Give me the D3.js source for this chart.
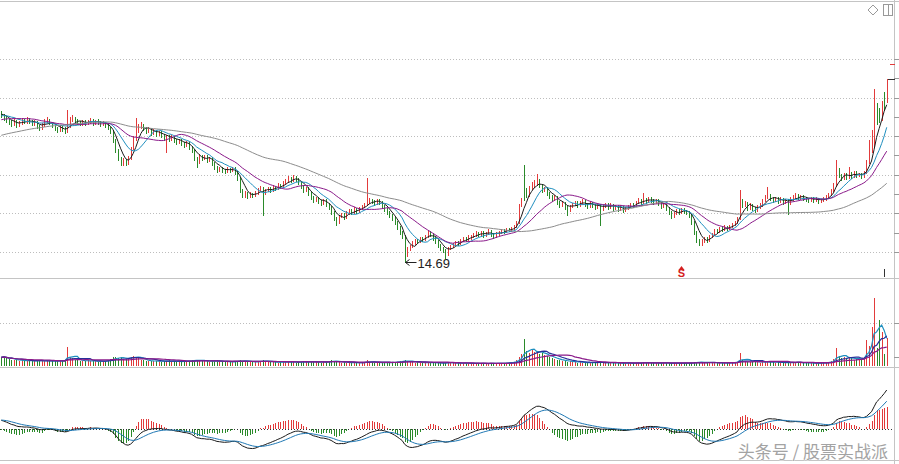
<!DOCTYPE html>
<html><head><meta charset="utf-8">
<script src="https://cdn.jsdelivr.net/npm/d3@7"></script>
<style>html,body{margin:0;padding:0;background:#fff;}svg{display:block;}</style>
</head><body>
<svg id="c" width="899" height="464"></svg>
<script>
// hidden history used only to warm up the averages / MACD
const preClose = [19.80,19.92,19.85,20.01,19.96,20.10,20.05,20.18,20.12,20.25,
20.20,20.33,20.28,20.40,20.36,20.48,20.44,20.55,20.52,20.60,
20.66,20.61,20.72,20.68,20.80,20.76,20.88,20.84,20.95,20.91,
21.02,20.98,21.10,21.06,21.18,21.14,21.25,21.21,21.33,21.30,
21.42,21.38,21.50,21.47,21.58,21.55,21.66,21.62,21.75,21.72,
21.84,21.80,21.92,21.88,22.00,21.96,22.08,22.04,22.15,22.12];

const close = [22.04,21.89,21.79,21.69,21.59,21.74,21.54,21.64,21.79,21.69,
21.84,21.74,21.59,21.69,21.49,21.39,21.54,21.74,21.79,21.64,
21.54,21.39,21.29,21.44,21.34,21.24,21.49,21.79,21.89,21.74,
21.69,21.59,21.74,21.64,21.69,21.79,21.64,21.74,21.69,21.59,
21.64,21.54,21.39,21.24,20.79,20.29,19.89,19.69,19.79,19.64,
19.89,20.39,20.89,21.29,21.44,21.54,21.39,21.24,21.34,21.14,
21.24,21.09,21.19,21.04,20.89,20.99,20.84,20.94,20.79,20.69,
20.79,20.64,20.54,20.64,20.44,20.29,19.89,19.69,19.99,19.89,
19.99,19.79,19.89,19.64,19.44,19.29,19.39,19.29,19.24,19.34,
19.29,19.39,19.19,18.89,18.29,18.04,18.14,17.99,18.09,18.04,
18.14,18.29,18.39,18.19,18.29,18.39,18.29,18.44,18.39,18.54,
18.49,18.64,18.74,18.89,18.79,18.94,18.84,18.69,18.49,18.29,
18.39,18.14,17.94,17.79,17.89,17.74,17.64,17.79,17.59,17.44,
17.19,16.89,16.69,16.99,17.09,16.94,17.14,17.29,17.19,17.34,
17.24,17.39,17.49,17.59,17.69,17.79,17.74,17.64,17.79,17.69,
17.49,17.34,17.19,17.04,16.89,16.69,16.44,16.19,15.99,15.04,
15.39,15.49,15.64,15.79,15.74,15.89,15.84,15.99,16.19,16.09,
15.89,15.74,15.54,15.39,15.29,15.14,15.39,15.49,15.59,15.69,
15.64,15.79,15.89,15.84,15.94,15.99,16.04,16.14,16.09,16.19,
16.04,16.14,16.24,16.09,15.99,16.14,16.19,16.29,16.24,16.34,
16.29,16.39,16.49,16.69,17.54,17.79,18.29,18.04,18.39,18.54,
18.69,18.79,18.54,18.29,18.39,18.14,17.99,17.84,17.94,17.69,
17.54,17.64,17.44,17.29,17.49,17.59,17.69,17.54,17.64,17.74,
17.59,17.49,17.64,17.54,17.44,17.54,17.34,17.49,17.59,17.44,
17.54,17.39,17.49,17.34,17.44,17.29,17.39,17.49,17.59,17.54,
17.69,17.79,17.69,17.84,17.74,17.89,17.79,17.69,17.79,17.64,
17.49,17.54,17.39,17.19,16.99,17.14,17.29,17.19,17.34,17.24,
17.19,17.04,16.69,16.19,15.79,15.64,15.74,15.89,15.79,15.99,
16.09,16.29,16.24,16.39,16.34,16.44,16.39,16.49,16.59,16.69,
16.89,17.79,17.54,17.64,17.39,17.54,17.39,17.29,17.44,17.54,
17.79,17.94,18.04,17.89,17.79,17.89,17.74,17.84,17.69,17.79,
17.64,17.84,17.94,18.04,17.94,17.99,17.89,17.84,17.79,17.89,
17.79,17.84,17.74,17.79,17.84,17.94,18.09,18.29,18.54,19.29,
19.04,18.89,19.09,18.94,19.14,18.99,19.19,19.04,19.09,18.99,
19.19,19.69,20.29,20.54,21.79,22.29,21.89,22.39,22.79,23.39];

const open = [22.15,22.02,21.90,21.80,21.70,21.58,21.72,21.52,21.62,21.80,
21.68,21.85,21.74,21.58,21.68,21.50,21.40,21.55,21.72,21.80,
21.65,21.55,21.40,21.30,21.45,21.35,21.25,21.50,21.78,21.90,
21.75,21.70,21.58,21.75,21.62,21.68,21.80,21.62,21.75,21.70,
21.58,21.65,21.55,21.40,21.22,20.80,20.28,19.88,19.68,19.80,
19.62,19.90,20.40,20.88,21.28,21.45,21.55,21.40,21.22,21.35,
21.12,21.25,21.08,21.20,21.05,20.88,21.00,20.82,20.95,20.80,
20.68,20.80,20.65,20.52,20.65,20.45,20.28,19.90,19.70,20.00,
19.88,20.00,19.78,19.90,19.65,19.45,19.28,19.40,19.30,19.22,
19.35,19.28,19.40,19.18,18.90,18.28,18.02,18.15,17.98,18.10,
18.02,18.12,18.28,18.40,18.18,18.28,18.40,18.28,18.45,18.38,
18.55,18.48,18.62,18.72,18.90,18.78,18.95,18.85,18.70,18.50,
18.28,18.40,18.15,17.95,17.78,17.90,17.75,17.62,17.80,17.60,
17.45,17.20,16.90,16.70,16.98,17.10,16.92,17.12,17.30,17.18,
17.35,17.22,17.38,17.48,17.58,17.70,17.80,17.75,17.62,17.80,
17.70,17.50,17.35,17.20,17.05,16.90,16.70,16.45,16.20,16.00,
15.05,15.38,15.48,15.62,15.80,15.72,15.90,15.82,15.98,16.20,
16.10,15.90,15.75,15.55,15.40,15.30,15.12,15.38,15.48,15.58,
15.70,15.62,15.78,15.90,15.82,15.92,15.98,16.02,16.15,16.08,
16.20,16.02,16.12,16.25,16.10,15.98,16.12,16.18,16.30,16.22,
16.35,16.28,16.38,16.48,16.70,17.55,18.50,18.30,18.02,18.38,
18.52,18.60,18.80,18.55,18.28,18.40,18.15,18.00,17.82,17.95,
17.70,17.52,17.65,17.45,17.28,17.48,17.58,17.70,17.52,17.62,
17.75,17.60,17.48,17.65,17.55,17.42,17.55,17.32,17.48,17.60,
17.42,17.55,17.38,17.50,17.32,17.45,17.28,17.38,17.48,17.60,
17.52,17.68,17.80,17.68,17.85,17.72,17.90,17.80,17.68,17.80,
17.65,17.48,17.55,17.40,17.20,16.98,17.12,17.30,17.18,17.35,
17.25,17.20,17.05,16.70,16.20,15.80,15.62,15.72,15.90,15.78,
15.98,16.08,16.30,16.22,16.40,16.32,16.45,16.38,16.48,16.58,
16.68,16.90,17.80,17.52,17.65,17.38,17.55,17.40,17.28,17.42,
17.52,17.78,17.92,18.05,17.90,17.78,17.90,17.72,17.85,17.68,
17.80,17.62,17.82,17.92,18.05,17.92,18.00,17.90,17.85,17.78,
17.90,17.78,17.85,17.72,17.78,17.82,17.92,18.08,18.28,18.55,
19.30,19.05,18.88,19.10,18.92,19.15,18.98,19.20,19.02,19.10,
18.98,19.20,19.70,20.30,20.55,22.40,22.30,21.90,22.95,22.80];

const high = [22.25,22.10,21.98,21.85,21.78,21.82,21.78,21.72,21.88,21.85,
21.92,21.90,21.80,21.78,21.72,21.56,21.62,21.84,21.95,21.86,
21.70,21.60,21.45,21.52,21.50,21.42,22.29,21.95,22.05,21.95,
21.82,21.76,21.80,21.80,21.78,21.88,21.84,21.80,21.82,21.75,
21.72,21.70,21.60,21.45,21.28,20.85,20.35,19.95,19.90,19.85,
19.98,20.45,21.00,21.89,21.60,21.70,21.60,21.46,21.42,21.40,
21.32,21.30,21.26,21.25,21.10,21.06,21.05,21.02,21.00,20.86,
20.86,20.84,20.70,20.72,20.70,20.50,20.32,19.95,20.08,20.05,
20.06,20.04,19.96,19.94,19.70,19.50,19.46,19.45,19.36,19.42,
19.40,19.46,19.44,19.22,18.94,18.35,18.22,18.20,18.18,18.16,
18.22,18.38,18.48,18.45,18.36,18.46,18.45,18.52,18.50,18.62,
18.60,18.72,18.82,18.98,18.95,19.04,19.00,18.90,18.74,18.55,
18.46,18.44,18.20,18.00,17.96,17.94,17.80,17.86,17.84,17.64,
17.50,17.24,16.94,17.06,17.16,17.14,17.22,17.36,17.34,17.42,
17.40,17.46,17.56,17.66,18.89,17.88,17.86,17.80,17.86,17.84,
17.74,17.54,17.40,17.24,17.10,16.94,16.74,16.50,16.24,16.04,
15.46,15.56,15.72,15.86,15.85,15.96,15.94,16.06,16.28,16.24,
16.14,15.95,15.80,15.60,15.45,15.34,15.46,15.56,15.66,15.76,
15.76,15.86,15.96,15.95,16.02,16.06,16.12,16.22,16.20,16.26,
16.24,16.20,16.32,16.28,16.14,16.20,16.26,16.36,16.34,16.40,
16.40,16.46,16.56,16.76,17.60,17.90,19.54,18.40,18.50,18.70,
18.80,19.09,18.86,18.60,18.46,18.44,18.20,18.04,18.02,17.98,
17.74,17.72,17.68,17.50,17.56,17.66,17.76,17.74,17.72,17.82,
17.80,17.64,17.72,17.70,17.60,17.62,17.58,17.56,17.66,17.64,
17.62,17.60,17.56,17.54,17.52,17.48,17.46,17.56,17.66,17.64,
17.76,17.90,17.84,18.14,17.90,17.96,17.94,17.84,17.86,17.84,
17.70,17.62,17.58,17.44,17.24,17.20,17.36,17.34,17.40,17.38,
17.30,17.24,17.08,16.74,16.24,15.84,15.82,15.96,15.94,16.06,
16.16,16.36,16.34,16.46,16.44,16.52,16.48,16.56,16.66,16.76,
16.96,18.29,17.86,17.72,17.68,17.62,17.58,17.44,17.52,17.62,
17.86,18.02,18.44,18.10,17.94,17.96,17.94,17.92,17.88,17.86,
17.84,17.92,18.02,18.12,18.10,18.06,18.04,17.96,17.90,17.96,
17.94,17.92,17.88,17.86,17.92,18.02,18.16,18.36,18.62,19.79,
19.40,19.10,19.16,19.14,19.44,19.20,19.26,19.24,19.16,19.14,
19.26,19.80,20.79,21.29,23.34,22.64,22.40,22.74,23.19,23.84];

const low = [21.95,21.80,21.70,21.58,21.50,21.52,21.45,21.48,21.58,21.62,
21.64,21.66,21.52,21.54,21.40,21.30,21.36,21.50,21.68,21.58,
21.46,21.30,21.20,21.24,21.26,21.15,21.20,21.45,21.72,21.66,
21.60,21.52,21.55,21.56,21.58,21.64,21.55,21.58,21.60,21.50,
21.52,21.46,21.32,21.15,20.70,20.20,19.80,19.55,19.52,19.54,
19.58,19.85,20.35,20.80,21.20,21.38,21.30,21.16,21.18,21.06,
21.08,21.00,21.02,20.95,20.80,20.20,20.76,20.78,20.70,20.60,
20.62,20.55,20.46,20.48,20.36,20.20,19.80,19.45,19.65,19.80,
19.84,19.70,19.72,19.56,19.36,19.20,19.22,19.18,19.14,19.18,
19.20,19.24,19.10,18.80,18.20,17.95,17.96,17.90,17.92,17.96,
17.98,18.08,18.22,17.04,18.10,18.22,18.20,18.24,18.30,18.34,
18.40,18.44,18.58,18.68,18.70,18.74,18.76,18.60,18.40,18.20,
18.22,18.06,17.86,17.70,17.72,17.66,17.56,17.58,17.50,17.36,
17.10,16.80,16.52,16.64,16.92,16.86,16.88,17.08,17.10,17.14,
17.16,17.18,17.32,17.42,17.52,17.62,17.66,17.56,17.58,17.60,
17.40,17.26,17.10,16.96,16.80,16.60,16.36,16.10,15.90,14.69,
14.98,15.30,15.42,15.58,15.66,15.68,15.76,15.78,15.94,16.00,
15.80,15.66,15.46,15.30,15.20,14.90,15.06,15.32,15.42,15.52,
15.56,15.58,15.72,15.76,15.78,15.86,15.92,15.98,16.00,16.04,
15.96,15.98,16.08,16.00,15.90,15.94,16.06,16.14,16.16,16.18,
16.22,16.24,16.34,16.44,16.66,17.48,17.80,17.95,17.98,18.32,
18.46,18.55,18.46,18.20,18.22,18.06,17.90,17.76,17.78,17.60,
17.46,17.48,17.36,17.04,17.24,17.42,17.52,17.46,17.48,17.58,
17.50,17.40,17.44,17.46,17.36,17.38,16.54,17.28,17.42,17.36,
17.38,17.30,17.32,17.26,17.28,17.20,17.22,17.32,17.42,17.46,
17.48,17.62,17.60,17.64,17.66,17.68,17.70,17.60,17.64,17.56,
17.40,17.44,17.30,17.10,16.90,16.94,17.08,17.10,17.14,17.16,
17.10,16.96,16.60,16.10,15.70,15.54,15.56,15.68,15.70,15.74,
15.92,16.04,16.16,16.18,16.26,16.28,16.30,16.34,16.42,16.52,
16.62,16.86,17.46,17.48,17.30,17.34,17.30,17.20,17.24,17.38,
17.48,17.74,17.88,17.80,17.70,17.72,17.66,17.68,17.60,17.64,
17.09,17.58,17.78,17.88,17.86,17.86,17.80,17.76,17.70,17.74,
17.70,17.74,17.66,17.68,17.74,17.78,17.88,18.04,18.24,18.50,
18.95,18.80,18.84,18.86,18.88,18.90,18.94,18.96,18.98,18.90,
18.94,19.15,19.65,20.20,20.50,21.60,21.70,21.80,22.30,22.70];

const volume = [20,22,18,16,15,14,13,12,14,12,
11,12,13,11,12,14,12,11,13,12,
11,12,13,12,11,12,44,22,18,15,
13,12,11,12,13,11,12,11,10,12,
11,12,14,16,20,22,18,20,17,16,
18,22,24,21,18,15,13,12,11,12,
11,12,11,10,12,11,14,10,11,10,
11,10,12,11,12,13,15,14,13,11,
12,11,10,11,12,13,11,10,9,10,
10,9,11,12,14,12,11,10,9,10,
9,10,12,14,11,10,9,10,9,8,
9,10,9,11,10,9,8,9,10,11,
10,9,10,11,10,9,8,9,10,11,
13,12,10,9,8,9,8,7,8,7,
8,7,8,9,14,10,9,8,7,8,
8,7,8,9,8,9,10,11,12,14,
11,10,9,8,9,8,7,8,9,8,
7,8,7,6,7,8,9,8,7,6,
6,7,6,7,6,5,6,7,6,5,
6,5,6,7,6,5,6,7,8,7,
8,9,10,14,22,28,62,34,30,38,
32,36,28,30,26,24,20,18,16,15,
14,12,11,10,11,10,9,8,9,8,
8,7,8,9,8,7,9,8,7,8,
7,8,7,6,7,6,7,8,7,6,
7,8,7,10,8,7,6,7,8,7,
6,7,8,7,6,7,6,7,8,7,
6,7,8,9,10,9,8,7,8,9,
8,7,6,7,8,7,8,7,8,9,
10,30,14,12,10,9,12,10,9,8,
9,10,11,10,9,8,9,8,7,8,
8,9,8,7,10,8,7,8,7,6,
7,6,7,8,7,8,9,12,16,42,
24,18,20,16,22,18,14,16,18,15,
20,60,46,91,158,42,107,79,28,65];

const priceGrid = [15.19,17.12,19.05,20.98,22.91,24.84];
const priceTicks = [15.19,16.16,17.12,18.09,19.05,20.02,20.98,21.95,22.91,23.88,24.84];
const volGrid = [100];
const volTicks = [20,100];
const maPeriods = [5,10,20,60];
const maColors = ["#1b1b1b","#1f8fbf","#8a1a8a","#8c8c8c"];
const volMaPeriods = [5,10,20];
const volMaColors = ["#1f8fbf","#27309a","#8a1a8a"];
const lowText = "14.69";
const signalIndex = 268;
const signalText = "S";
const watermark = "头条号 / 股票实战派";

const RED="#e23b3b", GREEN="#2a8a2a";
const N = close.length;
const svg = d3.select("#c");
const x = d3.scaleBand().domain(d3.range(N)).range([0,888]);
const cx = i => Math.round(x(i) + x.bandwidth()/2) + 0.5;
const y = d3.scaleLinear().domain([13.89,27.74]).range([278,1]);
const vy = d3.scaleLinear().domain([0,200]).range([366,280]);

// frame
const frame = svg.append("g").attr("stroke","#c4c4c4").attr("stroke-width",1).attr("shape-rendering","crispEdges");
frame.append("line").attr("x1",0).attr("x2",899).attr("y1",1.5).attr("y2",1.5);
frame.append("line").attr("x1",0).attr("x2",899).attr("y1",278.5).attr("y2",278.5);
frame.append("line").attr("x1",0).attr("x2",899).attr("y1",367.5).attr("y2",367.5);
frame.append("line").attr("x1",0).attr("x2",899).attr("y1",460.5).attr("y2",460.5);
frame.append("line").attr("x1",894.5).attr("x2",894.5).attr("y1",0).attr("y2",464);

// grids
const grid = svg.append("g").attr("stroke","#bdbdbd").attr("stroke-dasharray","1,2").attr("shape-rendering","crispEdges");
grid.selectAll(".pg").data(priceGrid).join("line")
  .attr("x1",0).attr("x2",894).attr("y1",d=>Math.round(y(d))+0.5).attr("y2",d=>Math.round(y(d))+0.5);
grid.selectAll(".vg").data(volGrid).join("line")
  .attr("x1",0).attr("x2",894).attr("y1",d=>Math.round(vy(d))+0.5).attr("y2",d=>Math.round(vy(d))+0.5);
const tk = svg.append("g").attr("stroke","#999").attr("shape-rendering","crispEdges");
tk.selectAll(".pt").data(priceTicks).join("line")
  .attr("x1",894).attr("x2",899).attr("y1",d=>Math.round(y(d))+0.5).attr("y2",d=>Math.round(y(d))+0.5);
tk.selectAll(".vt").data(volTicks).join("line")
  .attr("x1",894).attr("x2",899).attr("y1",d=>Math.round(vy(d))+0.5).attr("y2",d=>Math.round(vy(d))+0.5);

// candles
const cg = svg.append("g").attr("shape-rendering","crispEdges");
cg.selectAll("line").data(d3.range(N)).join("line")
  .attr("x1",cx).attr("x2",cx)
  .attr("y1",i=>y(Math.max(high[i],open[i],close[i])))
  .attr("y2",i=>y(Math.min(low[i],open[i],close[i]))+1)
  .attr("stroke",i=>close[i]>=open[i]?RED:GREEN);

// price MAs
const all = preClose.concat(close);
const P = preClose.length;
function maOf(arr, n, offset){
  return d3.range(arr.length-offset).map(i=>{
    const j=i+offset; const s=Math.max(0,j-n+1);
    return d3.mean(arr.slice(s,j+1));
  });
}
const line = d3.line().x((d,i)=>x(i)+x.bandwidth()/2);
maPeriods.forEach((n,k)=>{
  const m = maOf(all,n,P);
  svg.append("path").attr("d", line.y(v=>y(v))(m))
    .attr("fill","none").attr("stroke",maColors[k]).attr("stroke-width",1);
});

// volume bars
const vg = svg.append("g").attr("shape-rendering","crispEdges");
vg.selectAll("line").data(d3.range(N)).join("line")
  .attr("x1",cx).attr("x2",cx)
  .attr("y1",i=>vy(volume[i])).attr("y2",vy(0))
  .attr("stroke",i=>close[i]>=open[i]?RED:GREEN);
volMaPeriods.forEach((n,k)=>{
  const m = maOf(volume,n,0);
  svg.append("path").attr("d", line.y(v=>vy(v))(m))
    .attr("fill","none").attr("stroke",volMaColors[k]).attr("stroke-width",1.2);
});

// MACD
function ema(arr,n){const k=2/(n+1);const out=[];arr.forEach((v,i)=>out.push(i?out[i-1]+k*(v-out[i-1]):v));return out;}
const e12=ema(all,12), e26=ema(all,26);
const difAll=e12.map((v,i)=>v-e26[i]);
const deaAll=ema(difAll,9);
const dif=difAll.slice(P), dea=deaAll.slice(P);
const hist=dif.map((v,i)=>2*(v-dea[i]));
const my=d3.scaleLinear().domain([0,d3.max(dif)]).range([429,390]);
svg.append("defs").append("clipPath").attr("id","mc").append("rect").attr("x",0).attr("y",369).attr("width",894).attr("height",91);
const mg=svg.append("g").attr("clip-path","url(#mc)");
mg.append("g").attr("shape-rendering","crispEdges").selectAll("line").data(d3.range(N)).join("line")
  .attr("x1",cx).attr("x2",cx).attr("y1",i=>my(hist[i])).attr("y2",my(0))
  .attr("stroke",i=>hist[i]>=0?RED:GREEN);
mg.append("line").attr("x1",0).attr("x2",894).attr("y1",Math.round(my(0))+0.5).attr("y2",Math.round(my(0))+0.5)
  .attr("stroke","#333").attr("stroke-dasharray","1,2").attr("shape-rendering","crispEdges");
mg.append("path").attr("d",line.y(v=>my(v))(dif)).attr("fill","none").attr("stroke","#1b1b1b").attr("stroke-width",1);
mg.append("path").attr("d",line.y(v=>my(v))(dea)).attr("fill","none").attr("stroke","#1f78b4").attr("stroke-width",1);

// low label
const li = d3.minIndex(low);
const lx = cx(li), ly = Math.round(y(low[li]))+0.5;
const lab = svg.append("g").attr("stroke","#222").attr("fill","none");
lab.append("line").attr("x1",lx).attr("x2",lx+11).attr("y1",ly).attr("y2",ly);
lab.append("path").attr("d",`M${lx+4},${ly-3}L${lx},${ly}L${lx+4},${ly+3}`);
svg.append("text").attr("x",lx+12).attr("y",ly+5).attr("font-family","Liberation Sans, Arial, sans-serif")
  .attr("font-size",13).attr("fill","#222").text(lowText);

// signal marker
const sx = cx(signalIndex);
svg.append("path").attr("d",`M${sx-3},${270}L${sx},${266}L${sx+3},${270}Z`).attr("fill","#d42020");
svg.append("text").attr("x",sx).attr("y",277).attr("text-anchor","middle").attr("font-family","Liberation Sans, Arial, sans-serif")
  .attr("font-weight","bold").attr("font-size",11).attr("fill","#d42020").text(signalText);

// last bar marker & right-edge marks
const lastX = cx(N-2);
svg.append("line").attr("x1",lastX).attr("x2",lastX).attr("y1",269).attr("y2",277).attr("stroke","#333").attr("shape-rendering","crispEdges");
svg.append("line").attr("x1",cx(N-1)).attr("x2",895).attr("y1",Math.round(y(high[N-1]))+0.5).attr("y2",Math.round(y(high[N-1]))+0.5).attr("stroke","#333").attr("shape-rendering","crispEdges");
svg.append("line").attr("x1",890).attr("x2",895).attr("y1",64.5).attr("y2",64.5).attr("stroke","#e23b3b").attr("shape-rendering","crispEdges");

// top-right icons
svg.append("path").attr("d","M873,5L878,10L873,15L868,10Z").attr("fill","none").attr("stroke","#999");
svg.append("rect").attr("x",883.5).attr("y",4.5).attr("width",9).attr("height",11).attr("fill","none").attr("stroke","#999");
svg.append("line").attr("x1",888.5).attr("x2",888.5).attr("y1",5).attr("y2",15).attr("stroke","#999");

// watermark
svg.append("text").attr("x",888).attr("y",458).attr("text-anchor","end")
  .attr("font-family","Noto Sans CJK SC, sans-serif").attr("font-size",17)
  .attr("fill","#a3a3a3").attr("stroke","#fff").attr("stroke-width",0.6).attr("paint-order","stroke").text(watermark);
</script>
</body></html>
